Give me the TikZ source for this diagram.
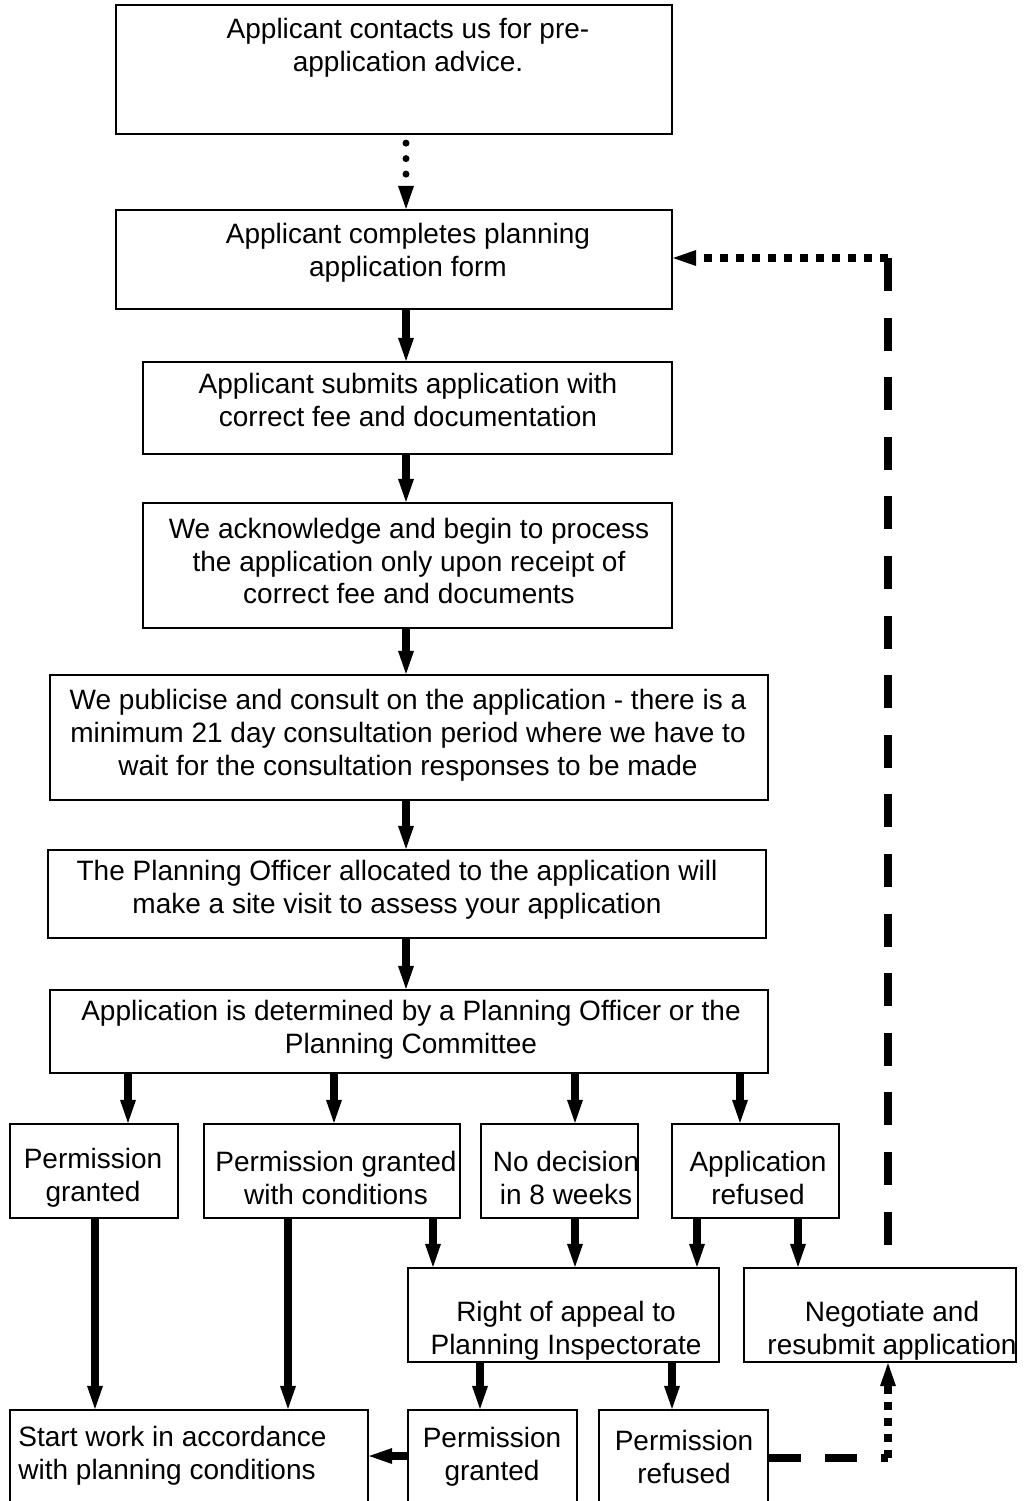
\documentclass[tikz,border=0pt]{standalone}
\usepackage{fontspec}
\setmainfont{Liberation Sans}
\usetikzlibrary{arrows.meta}
\tikzset{
  box/.style={draw, line width=1.1pt, inner sep=0pt},
  txt/.style={align=center, inner sep=0pt, font=\fontsize{14}{16.4}\selectfont},
  tip/.style={-{Triangle[length=11.5pt,width=8pt,line width=0pt]}},
  arr/.style={line width=4pt, tip},
  plainline/.style={line width=4pt},
  dotround/.style={line width=3.5pt, line cap=round, dash pattern=on 0pt off 7.75pt, shorten <=4pt, tip},
  dotsq/.style={line width=4pt, dash pattern=on 4pt off 4pt},
  longdash/.style={line width=4pt, dash pattern=on 16.5pt off 13.3pt},
  shortdash/.style={line width=4pt, dash pattern=on 16pt off 12pt},
}
\newcommand\bx[8]{%
  \node[box, minimum width={(#4-#2)*0.5pt}, minimum height={(#5-#3)*0.5pt}] (#1) at ({(#2+#4)/2},{(#3+#5)/2}) {};
  \node[txt] (#1-t) at (#6,#7) {#8};}
\begin{document}
\begin{tikzpicture}[x=0.5pt,y=-0.5pt]
\useasboundingbox (0,0) rectangle (1024,1501);
\clip (0,0) rectangle (1024,1501);
\fill[white] (0,0) rectangle (1024,1501);

\bx{n1}{116}{5}{672}{134}{408}{48}{Applicant contacts us for pre-\\application advice.}
\bx{n2}{116}{210}{672}{309}{408}{253}{Applicant completes planning\\application form}
\bx{n3}{143}{362}{672}{454}{408}{400}{Applicant submits application with\\correct fee and documentation}
\bx{n4}{143}{503}{672}{628}{409}{561}{We acknowledge and begin to process\\the application only upon receipt of\\correct fee and documents}
\bx{n5}{50}{675}{768}{800}{408}{735}{We publicise and consult on the application - there is a\\minimum 21 day consultation period where we have to\\wait for the consultation responses to be made}
\bx{n6}{48}{850}{766}{938}{397}{890}{The Planning Officer allocated to the application will\\make a site visit to assess your application}
\bx{n7}{50}{990}{768}{1073}{411}{1030}{Application is determined by a Planning Officer or the\\Planning Committee}
\bx{pg}{10}{1124}{178}{1218}{93}{1178}{Permission\\granted}
\bx{pc}{204}{1124}{460}{1218}{336}{1178}{Permission granted\\with conditions}
\bx{nd}{481}{1124}{638}{1218}{566}{1178}{No decision\\in 8 weeks}
\bx{ar}{672}{1124}{839}{1218}{758}{1178}{Application\\refused}
\bx{ap}{408}{1268}{719}{1362}{566}{1331}{Right of appeal to\\Planning Inspectorate}
\bx{ng}{744}{1268}{1016}{1362}{892}{1331}{Negotiate and\\resubmit application}
\node[box, minimum width=179pt, minimum height=47pt] (sw) at (189,1457) {};
\node[txt, align=left, anchor=west] (sw-t) at (18,1456) {Start work in accordance\\with planning conditions};
\bx{pg2}{408}{1410}{577}{1504}{492}{1457}{Permission\\granted}
\bx{pr}{599}{1410}{768}{1504}{684}{1457}{Permission\\refused}

\foreach \xx in {95,128,288,334,406,433,480,575,672,697,740,798,888}
  \coordinate (x\xx) at (\xx,0);
\coordinate (y258) at (0,258);
\coordinate (y1456) at (0,1456);
\coordinate (y1458) at (0,1458);
\coordinate (c1) at (888,258);
\coordinate (c2) at (888,1458);

\draw[dotround] (n1.south -| x406) -- (n2.north -| x406);
\draw[arr] (n2.south -| x406) -- (n3.north -| x406);
\draw[arr] (n3.south -| x406) -- (n4.north -| x406);
\draw[arr] (n4.south -| x406) -- (n5.north -| x406);
\draw[arr] (n5.south -| x406) -- (n6.north -| x406);
\draw[arr] (n6.south -| x406) -- (n7.north -| x406);

\draw[arr] (n7.south -| x128) -- (pg.north -| x128);
\draw[arr] (n7.south -| x334) -- (pc.north -| x334);
\draw[arr] (n7.south -| x575) -- (nd.north -| x575);
\draw[arr] (n7.south -| x740) -- (ar.north -| x740);

\draw[arr] (pc.south -| x433) -- (ap.north -| x433);
\draw[arr] (nd.south -| x575) -- (ap.north -| x575);
\draw[arr] (ar.south -| x697) -- (ap.north -| x697);
\draw[arr] (ar.south -| x798) -- (ng.north -| x798);

\draw[arr] (pg.south -| x95) -- (sw.north -| x95);
\draw[arr] (pc.south -| x288) -- (sw.north -| x288);

\draw[arr] (ap.south -| x480) -- (pg2.north -| x480);
\draw[arr] (ap.south -| x672) -- (pr.north -| x672);

\draw[arr] (pg2.west |- y1456) -- (sw.east |- y1456);

\draw[shortdash] (pr.east |- y1458) -- (c2);
\draw[dotsq, tip] (c2) -- (ng.south -| x888);

\draw[longdash] (c1) -- (ng.north -| x888);
\draw[dotsq, tip] (c1) -- (n2.east |- y258);
\end{tikzpicture}
\end{document}
